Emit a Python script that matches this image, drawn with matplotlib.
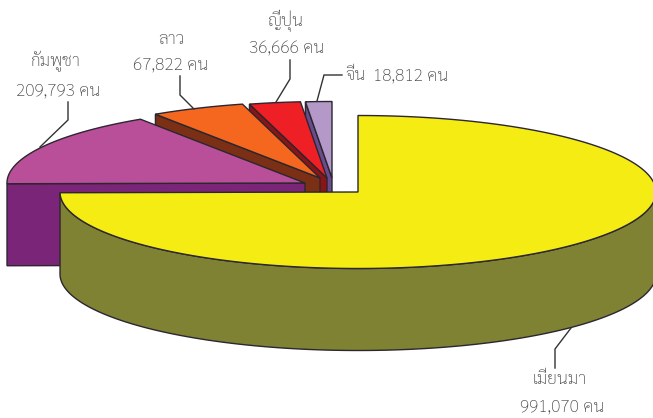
#!/usr/bin/env python3

import numpy as np
import matplotlib
matplotlib.use("Agg")
import matplotlib.pyplot as plt
from matplotlib.patches import Polygon

plt.rcParams["font.family"] = ["Sarabun", "Noto Sans Thai Looped", "Loma", "DejaVu Sans"]
plt.rcParams["font.weight"] = "light"

countries = ["เมียนมา", "กัมพูชา", "ลาว", "ญี่ปุ่น", "จีน"]
visitors = [991070, 209793, 67822, 36666, 18812]

top_colors = ["#f4ec13", "#b84f98", "#f5671f", "#ee2025", "#b499c8"]
side_colors = ["#7f8133", "#7b2578", "#7b3016", "#8b1414", "#6a4c8c"]
explode_x = [0, -53, -38, -31, -26]
explode_y = [0, -9, -14, -14, -14]

# pixel coordinates of the original picture
CX, CY = 358, 192
RX, RY = 298, 76.5
DEPTH = 82
EDGE = "#2b2630"
TEXT = "#454545"
FS = 12.5

fig = plt.figure(figsize=(6.53, 4.18), dpi=100)
ax = fig.add_axes([0, 0, 1, 1])
ax.set_xlim(0, 653)
ax.set_ylim(418, 0)
ax.axis("off")


def arc_points(x0, y0, a1, a2):
    t = np.radians(np.linspace(a1, a2, 200))
    return np.column_stack([x0 + RX * np.cos(t), y0 - RY * np.sin(t)])


# 時計回りに12時の位置から並べる
fracs = np.array(visitors) / sum(visitors) * 360
ends = 90 - np.cumsum(fracs)
starts = ends + fracs

# 奥のスライスから順に描く
for i in range(len(visitors) - 1, -1, -1):
    x0 = CX + explode_x[i]
    y0 = CY + explode_y[i]
    apex = np.array([x0, y0])
    down = np.array([0, DEPTH])

    if i == 0:
        # 手前の外周の壁
        wall = arc_points(x0, y0, ends[i], 0)
        wall = np.vstack([wall, (wall + down)[::-1]])
        ax.add_patch(Polygon(wall, closed=True, facecolor=side_colors[i], edgecolor=EDGE, lw=1.0))
    else:
        # 切り口（左側の面）
        outer = arc_points(x0, y0, starts[i], starts[i])[0]
        cut = np.array([apex, outer, outer + down, apex + down])
        ax.add_patch(Polygon(cut, closed=True, facecolor=side_colors[i], edgecolor=EDGE, lw=1.0))

    top = np.vstack([apex, arc_points(x0, y0, starts[i], ends[i])])
    ax.add_patch(Polygon(top, closed=True, facecolor=top_colors[i], edgecolor=EDGE, lw=1.0))

# ラベル
ax.text(560, 380, countries[0], ha="center", va="center", fontsize=FS, color=TEXT)
ax.text(562, 407, f"{visitors[0]:,} คน", ha="center", va="center", fontsize=FS, color=TEXT)
ax.text(55, 61, countries[1], ha="center", va="center", fontsize=FS, color=TEXT)
ax.text(58, 91, f"{visitors[1]:,} คน", ha="center", va="center", fontsize=FS, color=TEXT)
ax.text(171, 40, countries[2], ha="center", va="center", fontsize=FS, color=TEXT)
ax.text(171, 66, f"{visitors[2]:,} คน", ha="center", va="center", fontsize=FS, color=TEXT)
ax.text(285, 21, countries[3], ha="center", va="center", fontsize=FS, color=TEXT)
ax.text(287, 49, f"{visitors[3]:,} คน", ha="center", va="center", fontsize=FS, color=TEXT)
ax.text(345, 76, countries[4], ha="left", va="center", fontsize=FS, color=TEXT)
ax.text(373, 76, f"{visitors[4]:,} คน", ha="left", va="center", fontsize=FS, color=TEXT)

# 引き出し線
leaders = [
    ([555, 555, 571], [368, 349, 328]),
    ([68, 68, 40], [102, 120, 147]),
    ([180, 180, 194], [76, 95, 109]),
    ([290, 290, 276], [60, 79, 102]),
    ([342, 324, 317], [75, 75, 101]),
]
for xs, ys in leaders:
    ax.plot(xs, ys, color="#333333", lw=1.0, solid_joinstyle="miter")

fig.savefig("out.png", dpi=100)
